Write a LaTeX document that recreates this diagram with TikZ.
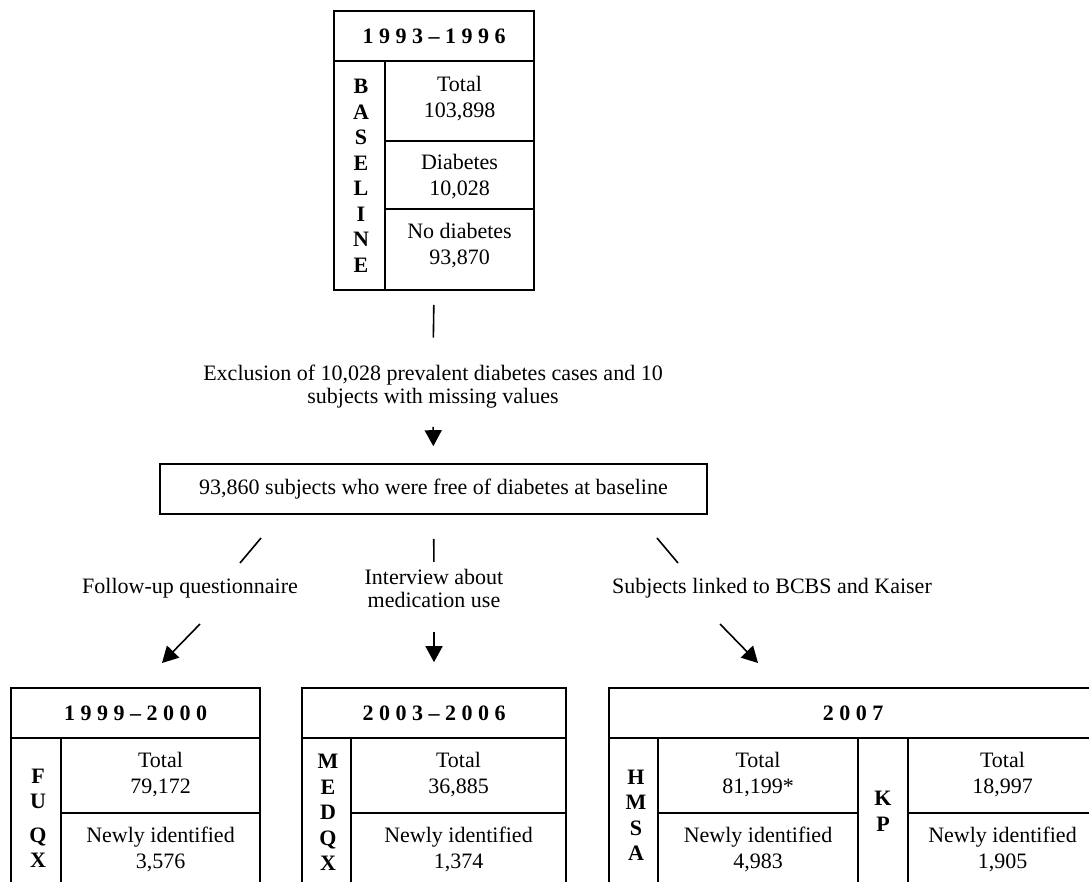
\documentclass[tikz,border=0pt]{standalone}
\usepackage{fontspec}
\setmainfont{Liberation Serif}
\usetikzlibrary{arrows.meta}

\newcommand{\lsp}{\kern5.5pt}

\begin{document}
\begin{tikzpicture}[x=1pt,y=-1pt,line width=1.6pt,
    txt/.style={inner sep=0pt, align=center, font=\fontsize{22}{26}\selectfont},
    hdr/.style={inner sep=0pt, font=\fontsize{22}{26}\selectfont\bfseries},
    letters/.style={inner sep=0pt, align=center, font=\fontsize{22}{25.5}\selectfont\bfseries},
    panel/.style={draw, inner sep=0pt},
    arr/.style={-{Triangle[length=16pt,width=17pt]}}]
    \useasboundingbox (0,0) rectangle (1089,881);
    \clip (0,0) rectangle (1089,881);

    % Draw the baseline panel
    \node[panel, minimum width=200pt, minimum height=279pt] (base) at (434,150.5) {};
    \draw (base.west |- 0,61) -- (base.east |- 0,61);
    \draw (385,61) -- (385,290);
    \foreach \y in {141,209}
        \draw (385,\y) -- (base.east |- 0,\y);
    \node[hdr] (basehdr) at (434,36) {1\lsp9\lsp9\lsp3\lsp--\lsp1\lsp9\lsp9\lsp6};
    \node[letters] (baselbl) at (361,176) {B\\A\\S\\E\\L\\I\\N\\E};
    \node[txt] (basetot) at (459.5,99) {Total\\103,898};
    \node[txt] (basedm) at (459.5,177) {Diabetes\\10,028};
    \node[txt] (basenodm) at (459.5,246) {No diabetes\\93,870};

    % Exclusion step
    \node[txt, font=\fontsize{22}{23}\selectfont] (excl) at (433,387)
        {Exclusion of 10,028 prevalent diabetes cases and 10\\subjects with missing values};
    \draw[shorten <=14pt, shorten >=27pt] (base.south) -- (excl.north);

    % Cohort free of diabetes
    \node[panel, minimum width=547pt, minimum height=50pt,
          font=\fontsize{22}{26}\selectfont] (free) at (433.5,489)
        {93,860 subjects who were free of diabetes at baseline};
    \draw[arr, shorten <=17.5pt, shorten >=17pt] (excl.south) -- (free.north);

    % Three follow-up sources
    \node[txt] (fulab) at (190,588) {Follow-up questionnaire};
    \node[txt, font=\fontsize{22}{23}\selectfont] (mdlab) at (434,588) {Interview about\\medication use};
    \node[txt] (hmlab) at (772,588) {Subjects linked to BCBS and Kaiser};

    \coordinate (fu1) at (261,538);
    \coordinate (fu2) at (240,563);
    \coordinate (fu3) at (200,624);
    \coordinate (fu4) at (162,663);
    \coordinate (hm1) at (657,538);
    \coordinate (hm2) at (678,563);
    \coordinate (hm3) at (720,624);
    \coordinate (hm4) at (758,663);

    \draw (fu1) -- (fu2);
    \draw[arr] (fu3) -- (fu4);
    \draw[shorten <=24pt, shorten >=6pt] (free.south) -- (mdlab.north);
    \draw (hm1) -- (hm2);
    \draw[arr] (hm3) -- (hm4);

    % Draw the bottom panels
    \node[panel, minimum width=249pt, minimum height=200pt] (fuqx) at (135.5,788) {};
    \node[panel, minimum width=264pt, minimum height=200pt] (medqx) at (434,788) {};
    \node[panel, minimum width=488pt, minimum height=200pt] (hmsa) at (853,788) {};
    \draw[arr, shorten <=24pt, shorten >=25pt] (mdlab.south) -- (medqx.north);

    \foreach \p in {fuqx,medqx,hmsa}
        \draw (\p.west |- 0,738) -- (\p.east |- 0,738);
    \foreach \x in {61,351,658,858,908}
        \draw (\x,738) -- (\x,888);
    \draw (61,813) -- (260,813);
    \draw (351,813) -- (566,813);
    \draw (658,813) -- (858,813);
    \draw (908,813) -- (1097,813);

    \node[hdr] (fuhdr) at (135.5,713) {1\lsp9\lsp9\lsp9\lsp--\lsp2\lsp0\lsp0\lsp0};
    \node[hdr] (mdhdr) at (434,713) {2\lsp0\lsp0\lsp3\lsp--\lsp2\lsp0\lsp0\lsp6};
    \node[hdr] (hmhdr) at (853,713) {2\lsp0\lsp0\lsp7};

    \node[letters] (fulbl) at (38,818.5) {F\\U\\[8pt]Q\\X};
    \node[letters] (mdlbl) at (328,812.5) {M\\E\\D\\Q\\X};
    \node[letters] (hmlbl) at (636,815.5) {H\\M\\S\\A};
    \node[letters] (kplbl) at (883,811.5) {K\\P};

    \node[txt] (futot) at (160.5,774.5) {Total\\79,172};
    \node[txt] (funew) at (160.5,849.5) {Newly identified\\3,576};
    \node[txt] (mdtot) at (458.5,774.5) {Total\\36,885};
    \node[txt] (mdnew) at (458.5,849.5) {Newly identified\\1,374};
    \node[txt] (hmtot) at (758,774.5) {Total\\81,199*};
    \node[txt] (hmnew) at (758,849.5) {Newly identified\\4,983};
    \node[txt] (kptot) at (1002.5,774.5) {Total\\18,997};
    \node[txt] (kpnew) at (1002.5,849.5) {Newly identified\\1,905};
\end{tikzpicture}
\end{document}
